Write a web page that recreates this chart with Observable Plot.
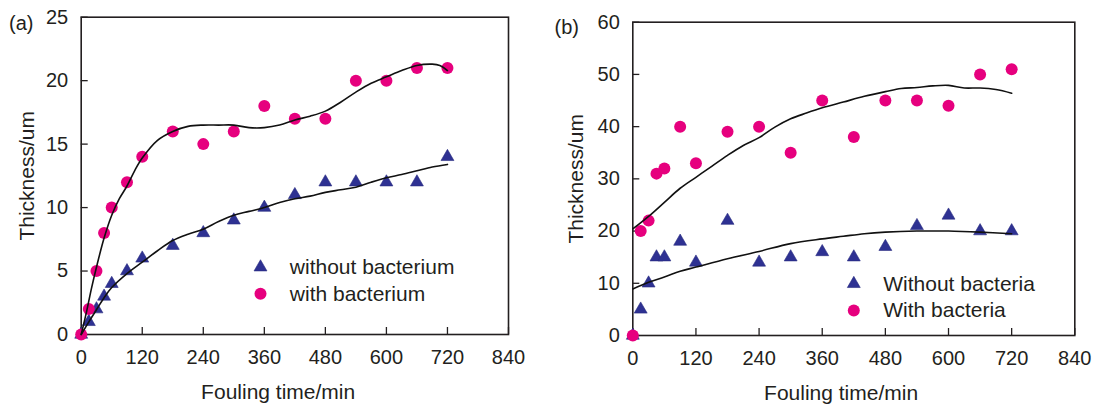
<!DOCTYPE html>
<html><head><meta charset="utf-8">
<script src="https://cdn.jsdelivr.net/npm/d3@7"></script>
<script src="https://cdn.jsdelivr.net/npm/@observablehq/plot@0.6"></script>
<style>
body{margin:0;background:#fff;}
#wrap{display:flex;width:1096px;height:405px;}
#wrap svg{display:block;}
</style></head><body><div id="wrap"></div>
<script>
// ---------- data ----------
const xTicks = [0, 120, 240, 360, 480, 600, 720, 840];
const aYTicks = [0, 5, 10, 15, 20, 25];
const bYTicks = [0, 10, 20, 30, 40, 50, 60];

const times = [0, 15, 30, 45, 60, 90, 120, 180, 240, 300, 360, 420, 480, 540, 600, 660, 720];

// panel (a)
const aWithout = [0, 1, 2, 3, 4, 5, 6, 7, 8, 9, 10, 11, 12, 12, 12, 12, 14];
const aWith    = [0, 2, 5, 8, 10, 12, 14, 16, 15, 16, 18, 17, 17, 20, 20, 21, 21];
const aWithFitT = [0, 10, 20, 30, 45, 60, 75, 90, 105, 120, 150, 180, 210, 240, 270, 300, 330, 360, 390, 420, 450, 480, 510, 540, 570, 600, 630, 660, 690, 705, 720];
const aWithFitV = [0, 1.7, 3.6, 5.3, 7.6, 9.4, 10.7, 11.7, 12.9, 13.9, 15.3, 16.0, 16.4, 16.5, 16.5, 16.5, 16.3, 16.3, 16.5, 16.9, 17.2, 17.6, 18.3, 19.1, 19.8, 20.3, 20.8, 21.2, 21.3, 21.2, 20.8];
const aWithoutFitT = [0, 15, 30, 45, 60, 90, 120, 150, 180, 210, 240, 270, 300, 330, 360, 390, 420, 450, 480, 510, 540, 570, 600, 630, 660, 690, 720];
const aWithoutFitV = [0, 1.0, 1.95, 2.9, 3.7, 4.8, 5.7, 6.6, 7.4, 7.9, 8.3, 8.9, 9.4, 9.7, 10.0, 10.4, 10.7, 10.9, 11.2, 11.4, 11.6, 12.0, 12.35, 12.6, 12.9, 13.2, 13.4];

// panel (b)
const bWithout = [0, 5, 10, 15, 15, 18, 14, 22, 14, 15, 16, 15, 17, 21, 23, 20, 20];
const bWith    = [0, 20, 22, 31, 32, 40, 33, 39, 40, 35, 45, 38, 45, 45, 44, 50, 51];
const bWithFitT = [0, 30, 60, 90, 120, 150, 180, 210, 240, 270, 300, 330, 360, 400, 440, 480, 510, 540, 570, 600, 630, 660, 690, 720];
const bWithFitV = [20.4, 22.8, 25.5, 28.2, 30.3, 32.4, 34.5, 36.4, 37.9, 39.9, 41.5, 42.6, 43.6, 44.7, 45.8, 46.7, 47.3, 47.5, 47.8, 47.9, 47.4, 47.4, 47.1, 46.4];
const bWithoutFitT = [0, 30, 60, 90, 120, 180, 240, 300, 360, 400, 440, 480, 540, 600, 660, 720];
const bWithoutFitV = [8.9, 10.2, 11.2, 12.3, 13.1, 14.7, 16.1, 17.6, 18.5, 19.0, 19.5, 19.8, 20.0, 20.0, 19.8, 19.5];

const xTitle = "Fouling time/min";
const yTitle = "Thickness/um";

// ---------- styles ----------
const INK = "#231f20";
const PINK = "#e6007e";
const NAVY = "#2e3192";
const FONT = "'Liberation Sans', Arial, sans-serif";

function panel(o) {
  const W = 548, H = 405;
  const innerW = W - o.ml - o.mr, innerH = H - o.mt - o.mb;
  const idx = d3.range(times.length);
  const fitLine = (T, V) => Plot.line(d3.range(T.length), {x: i => T[i], y: i => V[i], curve: "catmull-rom", stroke: "#111", strokeWidth: 1.6});
  return Plot.plot({
    width: W, height: H,
    marginLeft: o.ml, marginRight: o.mr, marginTop: o.mt, marginBottom: o.mb,
    style: {fontFamily: FONT, fontSize: "20px", color: INK, background: "white", overflow: "visible"},
    x: {domain: [0, 840], ticks: xTicks, tickSize: 0, tickPadding: 15, label: null, tickFormat: d => String(d)},
    y: {domain: [0, o.ymax], ticks: o.yTicks, tickSize: 0, tickPadding: 13, label: null, tickFormat: d => String(d)},
    marks: [
      Plot.tickX(xTicks, {x: d => d, insetTop: innerH - 7, stroke: INK, strokeWidth: 1.3}),
      Plot.tickY(o.yTicks, {y: d => d, insetRight: innerW - 7, stroke: INK, strokeWidth: 1.3}),
      Plot.frame({stroke: INK, strokeWidth: 1.6}),
      Plot.dot(idx, {x: i => times[i], y: i => o.without[i], symbol: "triangle", r: 4.8, fill: NAVY, stroke: "#262a80", strokeWidth: 0.6}),
      Plot.dot(idx, {x: i => times[i], y: i => o.withB[i], symbol: "circle", r: 6, fill: PINK}),
      fitLine(o.fitWithT, o.fitWithV),
      fitLine(o.fitWithoutT, o.fitWithoutV),
      // legend
      Plot.dot([0], {frameAnchor: "top-left", dx: o.legX, dy: o.legY1, symbol: "triangle", r: 4.8, fill: NAVY, stroke: "#262a80", strokeWidth: 0.6}),
      Plot.dot([0], {frameAnchor: "top-left", dx: o.legX, dy: o.legY2, symbol: "circle", r: 6, fill: PINK}),
      Plot.text([o.leg1], {text: d => d, frameAnchor: "top-left", dx: o.legTX, dy: o.legY1, textAnchor: "start", lineAnchor: "middle", fontSize: 21, fill: INK}),
      Plot.text([o.leg2], {text: d => d, frameAnchor: "top-left", dx: o.legTX, dy: o.legY2, textAnchor: "start", lineAnchor: "middle", fontSize: 21, fill: INK}),
      // titles
      Plot.text([xTitle], {text: d => d, frameAnchor: "bottom", dx: o.xtDx, dy: 58, textAnchor: "middle", lineAnchor: "middle", fontSize: 21, fill: INK}),
      Plot.text([yTitle], {text: d => d, frameAnchor: "left", rotate: -90, dx: o.ytDx, textAnchor: "middle", lineAnchor: "middle", fontSize: 21, fill: INK}),
      Plot.text([o.label], {text: d => d, frameAnchor: "top-left", dx: o.labDx, dy: o.labDy, textAnchor: "middle", lineAnchor: "middle", fontSize: 20, fill: INK})
    ]
  });
}

const wrap = document.getElementById("wrap");
wrap.append(panel({
  label: "(a)", ymax: 25, yTicks: aYTicks,
  without: aWithout, withB: aWith,
  fitWithT: aWithFitT, fitWithV: aWithFitV, fitWithoutT: aWithoutFitT, fitWithoutV: aWithoutFitV,
  ml: 80.7, mr: 40, mt: 16.7, mb: 71,
  leg1: "without bacterium", leg2: "with bacterium",
  legX: 179.3, legTX: 208.6, legY1: 250, legY2: 276.6,
  xtDx: -16.7, ytDx: -54, labDx: -60, labDy: 6
}));
wrap.append(panel({
  label: "(b)", ymax: 60, yTicks: bYTicks,
  without: bWithout, withB: bWith,
  fitWithT: bWithFitT, fitWithV: bWithFitV, fitWithoutT: bWithoutFitT, fitWithoutV: bWithoutFitV,
  ml: 84.3, mr: 21.7, mt: 21.7, mb: 70,
  leg1: "Without bacteria", leg2: "With bacteria",
  legX: 221, legTX: 250.4, legY1: 261.6, legY2: 288.3,
  xtDx: -12.7, ytDx: -57, labDx: -66, labDy: 5
}));
</script></body></html>
